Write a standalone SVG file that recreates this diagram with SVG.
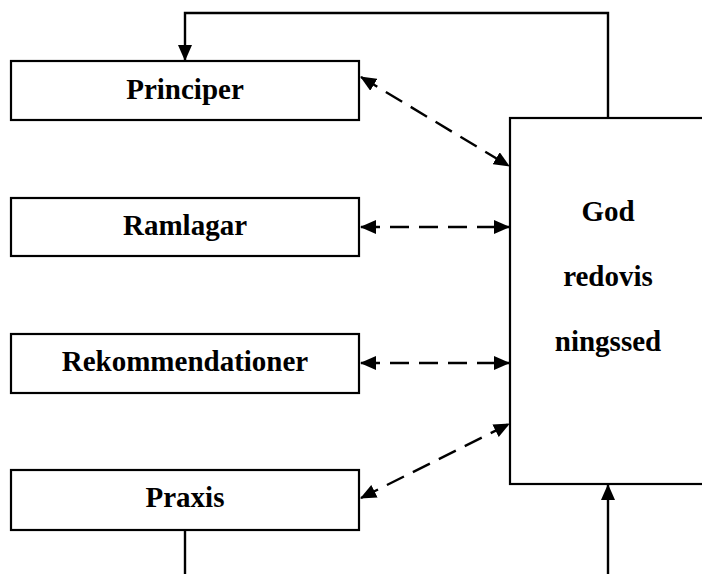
<svg xmlns="http://www.w3.org/2000/svg" width="702" height="574" viewBox="0 0 702 574">
<style>
.box{fill:#fff;stroke:#000;stroke-width:2.2}
.lbl{font-family:"Liberation Serif","Times New Roman",serif;font-weight:bold;font-size:29px;fill:#000;text-anchor:middle}
.solid{fill:none;stroke:#000;stroke-width:2.4}
.dash{fill:none;stroke:#000;stroke-width:2.4;stroke-dasharray:19 10}
</style>
<defs>
<marker id="ah" markerUnits="userSpaceOnUse" markerWidth="16" markerHeight="14" viewBox="0 0 16 14" refX="15" refY="7" orient="auto-start-reverse">
<path d="M0,0 L16,7 L0,14 Z" fill="#000"/>
</marker>
</defs>
<rect width="702" height="574" fill="#fff"/>
<g id="connectors">
<path class="solid" d="M608,118 V13 H185 V60" marker-end="url(#ah)"/>
<path class="solid" d="M608,574 V485" marker-end="url(#ah)"/>
<path class="solid" d="M185,530 V574"/>
<path class="dash" d="M361,77 L509,166" marker-start="url(#ah)" marker-end="url(#ah)"/>
<path class="dash" d="M361,227 L509,227" marker-start="url(#ah)" marker-end="url(#ah)"/>
<path class="dash" d="M361,363 L509,363" marker-start="url(#ah)" marker-end="url(#ah)"/>
<path class="dash" d="M361,498 L509,424" marker-start="url(#ah)" marker-end="url(#ah)"/>
</g>
<g id="principer">
<rect class="box" x="11" y="61" width="348" height="59"/>
<text class="lbl" x="185" y="99">Principer</text>
</g>
<g id="ramlagar">
<rect class="box" x="11" y="198" width="348" height="58"/>
<text class="lbl" x="185" y="235">Ramlagar</text>
</g>
<g id="rekommendationer">
<rect class="box" x="11" y="334" width="348" height="59"/>
<text class="lbl" x="185" y="371">Rekommendationer</text>
</g>
<g id="praxis">
<rect class="box" x="11" y="470" width="348" height="60"/>
<text class="lbl" x="185" y="507">Praxis</text>
</g>
<g id="god-redovisningssed">
<rect class="box" x="510" y="118" width="200" height="366"/>
<text class="lbl" x="608" y="221">God</text>
<text class="lbl" x="608" y="286">redovis</text>
<text class="lbl" x="608" y="351">ningssed</text>
</g>
</svg>
